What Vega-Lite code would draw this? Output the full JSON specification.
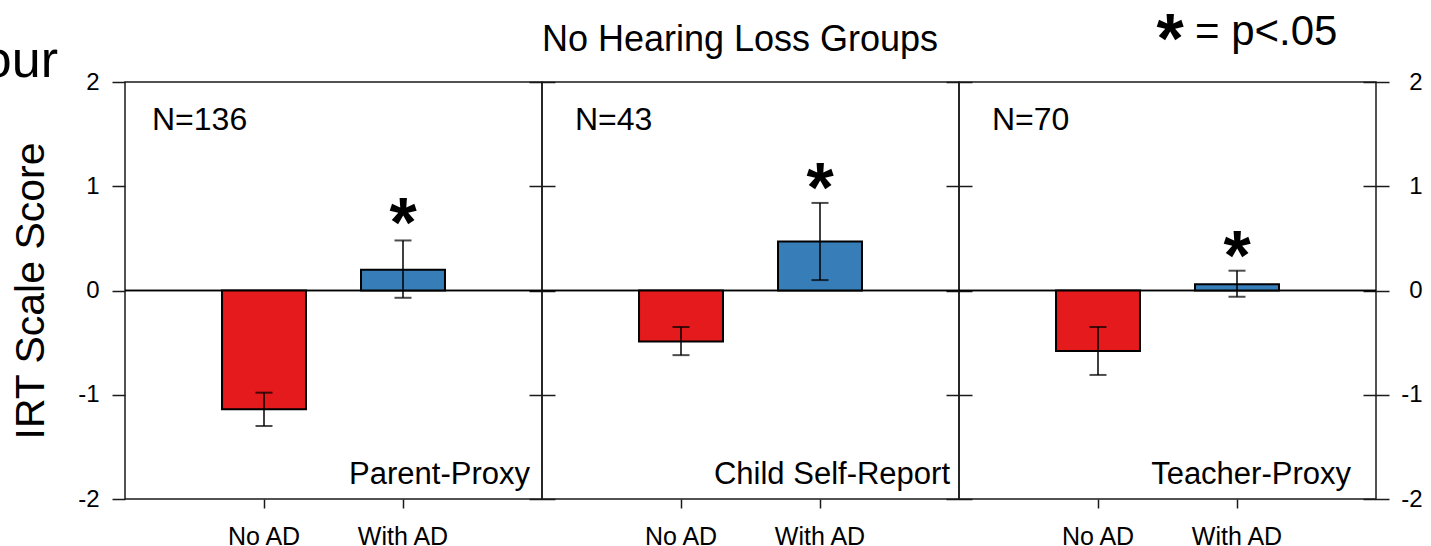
{
  "$schema": "https://vega.github.io/schema/vega-lite/v6.json",
  "padding": {"left": -18, "top": 6, "right": 0, "bottom": 0},
  "config": {
    "font": "Liberation Sans",
    "view": {"stroke": "#1a1a1a", "strokeWidth": 1.5},
    "axis": {"labelColor": "#000", "tickColor": "#1a1a1a", "tickWidth": 1.5, "labelFontSize": 24, "labelFont": "Liberation Sans", "grid": false, "domain": false, "titleColor": "#000", "titleFontWeight": "normal", "titleFont": "Liberation Sans"},
    "text": {"font": "Liberation Sans", "color": "#000"}
  },
  "datasets": {
    "scores": [
      {"panel": "Parent-Proxy", "n": "N=136", "group": "No AD", "mean": -1.14, "lo": -1.30, "hi": -0.98, "star": null},
      {"panel": "Parent-Proxy", "n": "N=136", "group": "With AD", "mean": 0.20, "lo": -0.07, "hi": 0.48, "star": 0.75},
      {"panel": "Child Self-Report", "n": "N=43", "group": "No AD", "mean": -0.49, "lo": -0.62, "hi": -0.35, "star": null},
      {"panel": "Child Self-Report", "n": "N=43", "group": "With AD", "mean": 0.47, "lo": 0.10, "hi": 0.84, "star": 1.09},
      {"panel": "Teacher-Proxy", "n": "N=70", "group": "No AD", "mean": -0.58, "lo": -0.81, "hi": -0.35, "star": null},
      {"panel": "Teacher-Proxy", "n": "N=70", "group": "With AD", "mean": 0.06, "lo": -0.06, "hi": 0.19, "star": 0.44}
    ]
  },
  "data": {"name": "scores"},
  "bounds": "flush",
  "spacing": 0,
  "hconcat": [
    {
      "width": 417, "height": 417,
      "transform": [{"filter": "datum.panel == 'Parent-Proxy'"}],
      "resolve": {"axis": {"y": "independent"}},
      "layer": [
        {"mark": {"type": "rule", "color": "#000", "strokeWidth": 1.5},
         "encoding": {"y": {"datum": 0, "type": "quantitative", "scale": {"domain": [-2, 2], "nice": false}, "axis": {"orient": "right", "values": [-2, -1, 0, 1, 2], "offset": -13, "tickSize": 26, "labels": false, "title": null}}}},
        {"mark": {"type": "bar", "stroke": "#000", "strokeWidth": 2},
         "encoding": {
           "x": {"field": "group", "type": "nominal", "scale": {"paddingInner": 0.396, "paddingOuter": 0.698}, "axis": {"title": null, "labelAngle": 0, "tickSize": 9, "labelPadding": 16, "labelFontSize": 25}},
           "y": {"field": "mean", "type": "quantitative", "scale": {"domain": [-2, 2], "nice": false}, "axis": {"orient": "left", "values": [-2, -1, 0, 1, 2], "labelExpr": "'' + datum.value", "tickSize": 13, "labelPadding": 13, "title": "IRT Scale Score", "titleFontSize": 41, "titlePadding": 25}},
           "color": {"field": "group", "type": "nominal", "scale": {"domain": ["No AD", "With AD"], "range": ["#E41A1C", "#377EB8"]}, "legend": null}
         }},
        {"mark": {"type": "rule", "color": "#000", "strokeWidth": 1.5},
         "encoding": {"x": {"field": "group", "type": "nominal"}, "y": {"field": "lo", "type": "quantitative", "axis": null}, "y2": {"field": "hi"}}},
        {"mark": {"type": "tick", "color": "#000", "thickness": 2, "size": 17},
         "encoding": {"x": {"field": "group", "type": "nominal"}, "y": {"field": "lo", "type": "quantitative", "axis": null}}},
        {"mark": {"type": "tick", "color": "#000", "thickness": 2, "size": 17},
         "encoding": {"x": {"field": "group", "type": "nominal"}, "y": {"field": "hi", "type": "quantitative", "axis": null}}},
        {"transform": [{"filter": "datum.star != null"}],
         "mark": {"type": "text", "text": "*", "fontSize": 70, "fontWeight": "bold", "dy": 35, "baseline": "alphabetic"},
         "encoding": {"x": {"field": "group", "type": "nominal"}, "y": {"field": "star", "type": "quantitative", "axis": null}}},
        {"transform": [{"filter": "datum.group == 'No AD'"}],
         "mark": {"type": "text", "fontSize": 32, "align": "left", "baseline": "alphabetic", "dx": -112},
         "encoding": {"x": {"field": "group", "type": "nominal"}, "y": {"datum": 1.54, "axis": null}, "text": {"field": "n"}}},
        {"transform": [{"filter": "datum.group == 'With AD'"}],
         "mark": {"type": "text", "fontSize": 31, "align": "right", "baseline": "alphabetic", "dx": 127},
         "encoding": {"x": {"field": "group", "type": "nominal"}, "y": {"datum": -1.855, "axis": null}, "text": {"field": "panel"}}},
        {"transform": [{"filter": "datum.group == 'No AD'"}],
         "mark": {"type": "text", "text": "our", "fontSize": 52, "align": "right", "baseline": "alphabetic", "dx": -206},
         "encoding": {"x": {"field": "group", "type": "nominal"}, "y": {"datum": 2.048, "axis": null}}}
      ]
    },
    {
      "width": 417, "height": 417,
      "transform": [{"filter": "datum.panel == 'Child Self-Report'"}],
      "resolve": {"axis": {"y": "independent"}},
      "layer": [
        {"mark": {"type": "rule", "color": "#000", "strokeWidth": 1.5},
         "encoding": {"y": {"datum": 0, "type": "quantitative", "scale": {"domain": [-2, 2], "nice": false}, "axis": {"orient": "right", "values": [-2, -1, 0, 1, 2], "offset": -13, "tickSize": 26, "labels": false, "title": null}}}},
        {"mark": {"type": "bar", "stroke": "#000", "strokeWidth": 2},
         "encoding": {
           "x": {"field": "group", "type": "nominal", "scale": {"paddingInner": 0.396, "paddingOuter": 0.698}, "axis": {"title": null, "labelAngle": 0, "tickSize": 9, "labelPadding": 16, "labelFontSize": 25}},
           "y": {"field": "mean", "type": "quantitative", "scale": {"domain": [-2, 2], "nice": false}, "axis": null},
           "color": {"field": "group", "type": "nominal", "scale": {"domain": ["No AD", "With AD"], "range": ["#E41A1C", "#377EB8"]}, "legend": null}
         }},
        {"mark": {"type": "rule", "color": "#000", "strokeWidth": 1.5},
         "encoding": {"x": {"field": "group", "type": "nominal"}, "y": {"field": "lo", "type": "quantitative", "axis": null}, "y2": {"field": "hi"}}},
        {"mark": {"type": "tick", "color": "#000", "thickness": 2, "size": 17},
         "encoding": {"x": {"field": "group", "type": "nominal"}, "y": {"field": "lo", "type": "quantitative", "axis": null}}},
        {"mark": {"type": "tick", "color": "#000", "thickness": 2, "size": 17},
         "encoding": {"x": {"field": "group", "type": "nominal"}, "y": {"field": "hi", "type": "quantitative", "axis": null}}},
        {"transform": [{"filter": "datum.star != null"}],
         "mark": {"type": "text", "text": "*", "fontSize": 70, "fontWeight": "bold", "dy": 35, "baseline": "alphabetic"},
         "encoding": {"x": {"field": "group", "type": "nominal"}, "y": {"field": "star", "type": "quantitative", "axis": null}}},
        {"transform": [{"filter": "datum.group == 'No AD'"}],
         "mark": {"type": "text", "fontSize": 32, "align": "left", "baseline": "alphabetic", "dx": -106},
         "encoding": {"x": {"field": "group", "type": "nominal"}, "y": {"datum": 1.54, "axis": null}, "text": {"field": "n"}}},
        {"transform": [{"filter": "datum.group == 'With AD'"}],
         "mark": {"type": "text", "fontSize": 31, "align": "right", "baseline": "alphabetic", "dx": 130},
         "encoding": {"x": {"field": "group", "type": "nominal"}, "y": {"datum": -1.855, "axis": null}, "text": {"field": "panel"}}},
        {"transform": [{"filter": "datum.group == 'No AD'"}],
         "mark": {"type": "text", "text": "No Hearing Loss Groups", "fontSize": 36, "align": "center", "baseline": "alphabetic", "dx": 59},
         "encoding": {"x": {"field": "group", "type": "nominal"}, "y": {"datum": 2.302, "axis": null}}}
      ]
    },
    {
      "width": 417, "height": 417,
      "transform": [{"filter": "datum.panel == 'Teacher-Proxy'"}],
      "resolve": {"axis": {"y": "independent"}},
      "layer": [
        {"mark": {"type": "rule", "color": "#000", "strokeWidth": 1.5},
         "encoding": {"y": {"datum": 0, "type": "quantitative", "scale": {"domain": [-2, 2], "nice": false}, "axis": {"orient": "right", "values": [-2, -1, 0, 1, 2], "labelExpr": "'' + datum.value", "offset": -13, "tickSize": 26, "labelAlign": "right", "labelPadding": 33, "title": null}}}},
        {"mark": {"type": "bar", "stroke": "#000", "strokeWidth": 2},
         "encoding": {
           "x": {"field": "group", "type": "nominal", "scale": {"paddingInner": 0.396, "paddingOuter": 0.698}, "axis": {"title": null, "labelAngle": 0, "tickSize": 9, "labelPadding": 16, "labelFontSize": 25}},
           "y": {"field": "mean", "type": "quantitative", "scale": {"domain": [-2, 2], "nice": false}, "axis": null},
           "color": {"field": "group", "type": "nominal", "scale": {"domain": ["No AD", "With AD"], "range": ["#E41A1C", "#377EB8"]}, "legend": null}
         }},
        {"mark": {"type": "rule", "color": "#000", "strokeWidth": 1.5},
         "encoding": {"x": {"field": "group", "type": "nominal"}, "y": {"field": "lo", "type": "quantitative", "axis": null}, "y2": {"field": "hi"}}},
        {"mark": {"type": "tick", "color": "#000", "thickness": 2, "size": 17},
         "encoding": {"x": {"field": "group", "type": "nominal"}, "y": {"field": "lo", "type": "quantitative", "axis": null}}},
        {"mark": {"type": "tick", "color": "#000", "thickness": 2, "size": 17},
         "encoding": {"x": {"field": "group", "type": "nominal"}, "y": {"field": "hi", "type": "quantitative", "axis": null}}},
        {"transform": [{"filter": "datum.star != null"}],
         "mark": {"type": "text", "text": "*", "fontSize": 70, "fontWeight": "bold", "dy": 35, "baseline": "alphabetic"},
         "encoding": {"x": {"field": "group", "type": "nominal"}, "y": {"field": "star", "type": "quantitative", "axis": null}}},
        {"transform": [{"filter": "datum.group == 'No AD'"}],
         "mark": {"type": "text", "fontSize": 32, "align": "left", "baseline": "alphabetic", "dx": -106},
         "encoding": {"x": {"field": "group", "type": "nominal"}, "y": {"datum": 1.54, "axis": null}, "text": {"field": "n"}}},
        {"transform": [{"filter": "datum.group == 'With AD'"}],
         "mark": {"type": "text", "fontSize": 31, "align": "right", "baseline": "alphabetic", "dx": 114},
         "encoding": {"x": {"field": "group", "type": "nominal"}, "y": {"datum": -1.855, "axis": null}, "text": {"field": "panel"}}},
        {"transform": [{"filter": "datum.group == 'With AD'"}],
         "mark": {"type": "text", "text": "*", "fontSize": 70, "fontWeight": "bold", "dx": -67, "dy": 35, "align": "center", "baseline": "alphabetic"},
         "encoding": {"x": {"field": "group", "type": "nominal"}, "y": {"datum": 2.52, "axis": null}}},
        {"transform": [{"filter": "datum.group == 'With AD'"}],
         "mark": {"type": "text", "text": "= p<.05", "fontSize": 42, "dx": -42, "align": "left", "baseline": "alphabetic"},
         "encoding": {"x": {"field": "group", "type": "nominal"}, "y": {"datum": 2.355, "axis": null}}}
      ]
    }
  ]
}
